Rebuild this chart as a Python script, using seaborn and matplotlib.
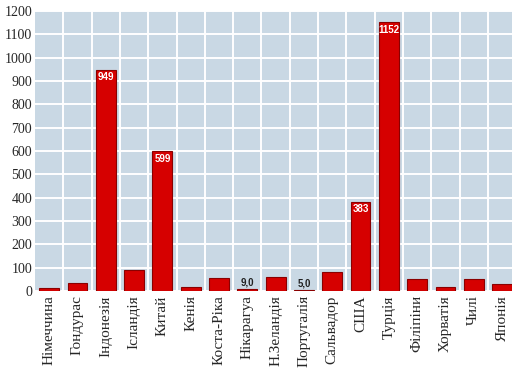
import matplotlib
matplotlib.use("Agg")
import matplotlib.pyplot as plt
import seaborn as sns
import pandas as pd
from matplotlib.ticker import MultipleLocator, FixedLocator

# ------ Дані ------ #
countries = ["Німеччина", "Гондурас", "Індонезія", "Ісландія", "Китай", "Кенія",
             "Коста-Ріка", "Нікарагуа", "Н.Зеландія", "Португалія", "Сальвадор",
             "США", "Турція", "Філіпіни", "Хорватія", "Чилі", "Японія"]
values = [15, 33, 949, 88, 599, 18, 56, 9.0, 60, 5.0, 82, 383, 1152, 50, 19, 50, 32]
labels_inside = {"Індонезія": "949", "Китай": "599", "США": "383", "Турція": "1152"}
labels_above = {"Нікарагуа": "9,0", "Португалія": "5,0"}

df = pd.DataFrame({"country": countries, "value": values})

# ------ Графік ------ #
sns.set_style("white")
plt.rcParams["font.family"] = ["Liberation Serif", "DejaVu Serif"]

fig = plt.figure(figsize=(5.12, 3.79), dpi=100)
ax = fig.add_axes([35 / 512, 88 / 379, 477 / 512, 280 / 379])
ax.set_facecolor("#c9d8e4")

sns.barplot(data=df, x="country", y="value", color="#d60000", width=0.7,
            edgecolor="#8a0000", linewidth=0.8, saturation=1, ax=ax, zorder=3)

ax.set_ylim(0, 1200)
ax.set_xlim(-0.5, 16.35)
ax.yaxis.set_major_locator(MultipleLocator(100))
ax.xaxis.set_minor_locator(FixedLocator([i + 0.5 for i in range(len(countries))]))
ax.grid(axis="y", which="major", color="white", lw=1.4, zorder=0)
ax.grid(axis="x", which="minor", color="white", lw=1.4, zorder=0)
ax.set_axisbelow(True)
for s in ax.spines.values():
    s.set_visible(False)

ax.tick_params(axis="both", which="both", length=0)
ax.tick_params(axis="y", labelsize=10, pad=2)
ax.tick_params(axis="x", labelsize=11, pad=3)
ax.set_xticks(range(len(countries)))
ax.set_xticklabels(countries, rotation=90)
ax.set_xlabel("")
ax.set_ylabel("")

narrow = ["Liberation Sans", "DejaVu Sans"]
for i, (c, v) in enumerate(zip(countries, values)):
    if c in labels_inside:
        ax.text(i, v - 12, labels_inside[c], ha="center", va="top", color="white",
                fontsize=7, fontweight="bold", family=narrow, zorder=4)
    if c in labels_above:
        ax.text(i, v + 4, labels_above[c], ha="center", va="bottom", color="#222222",
                fontsize=7, fontweight="bold", family=narrow, zorder=4)

fig.savefig("out.png", dpi=100)
